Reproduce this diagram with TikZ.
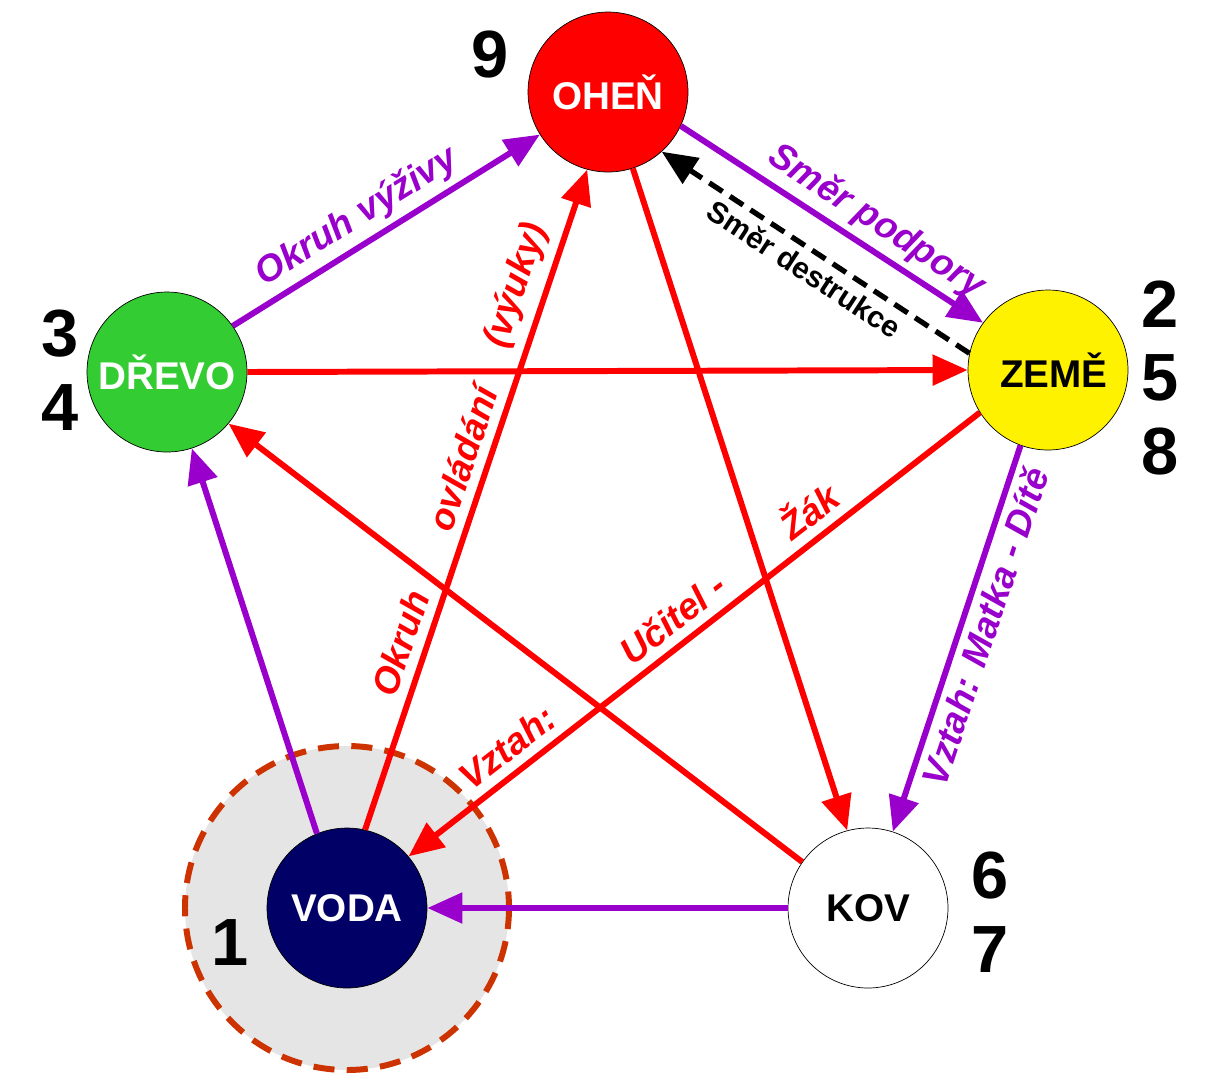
\documentclass[tikz,border=0pt]{standalone}
\usepackage{fontspec}
\setmainfont{Liberation Sans}
\usetikzlibrary{shapes,arrows.meta,calc,positioning}
\definecolor{fpurple}{HTML}{9900CC}
\definecolor{fgreen}{HTML}{33CC33}
\definecolor{fnavy}{HTML}{000066}
\definecolor{frust}{HTML}{CC3300}
\begin{document}
\begin{tikzpicture}[%
      x=0.02cm,y=-0.02cm,
      >={Triangle[length=20pt,width=17pt]}, % arrow heads
      font=\bfseries
      ]
  \tikzset{
    elem/.style={draw,circle,minimum size=3.2cm,inner sep=0pt,font=\fontsize{22}{22}\bfseries},
    num/.style={font=\fontsize{38}{42}\bfseries,align=center},
    sup/.style={draw=fpurple,line width=3.4pt,->},
    ctl/.style={draw=red,line width=3.4pt,->},
    plab/.style={text=fpurple,font=\fontsize{21}{21}\bfseries\itshape,sloped},
    rlab/.style={text=red,font=\fontsize{21}{21}\bfseries\itshape,sloped}}
 \useasboundingbox (0,0) rectangle (1220,1080);
 \draw[frust,fill=black!10,line width=3.4pt,dash pattern=on 12pt off 7pt] (347,908) circle (162);

 \node [elem,fill=red,text=white]    (ohen)  at (608,92)  {OHEŇ};
 \node [elem,fill=fgreen,text=white] (drevo) at (167,372) {DŘEVO};
 \node [elem,fill=yellow]            (zeme)  at (1048,370) {\hspace*{0.3em}ZEMĚ};
 \node [elem,fill=fnavy,text=white]  (voda)  at (347,908) {VODA};
 \node [elem,fill=white]             (kov)   at (868,908) {KOV};

 \node [num] (n9) at (490,55) {9};
 \node [num] (n34) at (60,370) {3\\4};
 \node [num] (n258) at (1160,378) {2\\5\\8};
 \node [num] (n67) at (990,912) {6\\7};
 \node [num] (n1) at (230,943) {1};

 % podpora
 \draw[sup] (drevo.35) -- node[plab,above,pos=0.45]{Okruh výživy} (ohen.212);
 \draw[sup] (ohen.-25) -- node[plab,above,pos=0.6]{Směr podpory} (zeme.144);
 \draw[sup,<-] (kov.72) -- node[plab,below,pos=0.55]{Vztah: Matka - Dítě} (zeme.-110);
 \draw[sup] (kov.180) -- (voda.0);
 \draw[sup] (voda.112) -- (drevo.-72);
 \draw[line width=3pt,dash pattern=on 9pt off 5pt,->] (zeme.168) -- node[below,sloped,font=\fontsize{17}{17}\bfseries,pos=0.5]{Směr destrukce} (ohen.-48);

 % ovladani
 \draw[ctl] (drevo.0) -- (zeme.180);
 \draw[ctl,<-] (voda.40) -- node[rlab,above=2pt,pos=0.2]{Vztah:}
   node[rlab,above=2pt,pos=0.49]{Učitel -} node[rlab,above=2pt,pos=0.73]{Žák} (zeme.212);
 \draw[ctl] (voda.77) -- node[rlab,above=2pt,pos=0.27]{Okruh}
   node[rlab,above=2pt,pos=0.55]{ovládání} node[rlab,above=2pt,pos=0.81]{(výuky)} (ohen.-105);
 \draw[ctl] (ohen.-72) -- (kov.105);
 \draw[ctl] (kov.145) -- (drevo.-40);
\end{tikzpicture}
\end{document}
